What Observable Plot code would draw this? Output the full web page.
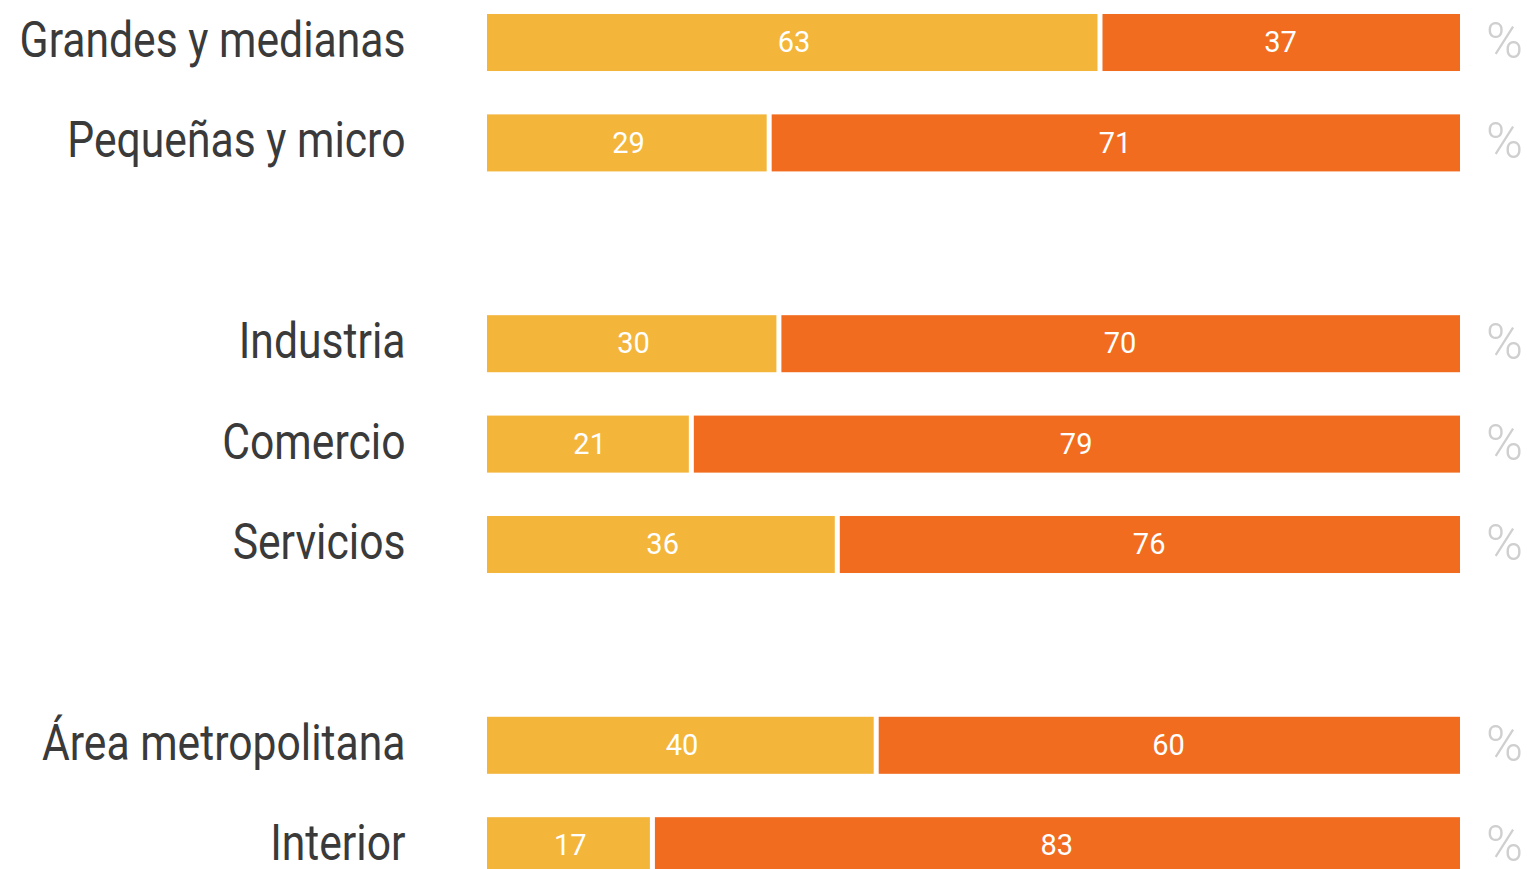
<!DOCTYPE html>
<html><head><meta charset="utf-8">
<script src="https://cdn.jsdelivr.net/npm/d3@7"></script>
<script src="https://cdn.jsdelivr.net/npm/@observablehq/plot@0.6"></script>
<style>
html,body{margin:0;padding:0;background:#fff;overflow:hidden;}
#chart svg{overflow:visible;display:block;}
</style></head>
<body><div id="chart"></div>
<script>
const categories = ["Grandes y medianas","Pequeñas y micro","Industria","Comercio","Servicios","Área metropolitana","Interior"];
const slots = ["Grandes y medianas","Pequeñas y micro","gap1","Industria","Comercio","Servicios","gap2","Área metropolitana","Interior"];
const firstShare = [63,29,30,21,36,40,17];
const secondLabel = [37,71,70,79,76,60,83];

const rows = categories.map((c,i)=>({cat:c, a:firstShare[i], b:secondLabel[i]}));
const font = "Roboto,sans-serif";

const chart = Plot.plot({
  width: 1527, height: 869,
  margin: 0,
  x: {domain:[0,100], range:[487,1460], axis:null},
  y: {domain:slots, range:[-7.7,895.9], paddingInner:0.432, paddingOuter:0.216, round:false, axis:null},
  marks: [
    Plot.barX(rows, {y:"cat", x1:0, x2:"a", fill:"#F4B53B", insetRight:2.5}),
    Plot.barX(rows, {y:"cat", x1:"a", x2:100, fill:"#F26C1F", insetLeft:2.5}),
    Plot.text(rows, {y:"cat", x:d=>d.a/2, text:d=>String(d.a), fill:"white", fontSize:29, fontFamily:font, lineAnchor:"middle", dy:0}),
    Plot.text(rows, {y:"cat", x:d=>(d.a+100)/2, text:d=>String(d.b), fill:"white", fontSize:29, fontFamily:font, lineAnchor:"middle", dy:0}),
    Plot.text(rows, {y:"cat", x:0, dx:-82, text:"cat", textAnchor:"end", fill:"#3a3a3a", fontSize:50, fontFamily:font, lineAnchor:"middle", dy:-2}),
    Plot.text(rows, {y:"cat", x:100, dx:44, text:()=>"%", textAnchor:"middle", fill:"#cfcfcf", fontSize:50, fontFamily:font, fontWeight:300, lineAnchor:"middle", dy:-1})
  ]
});
document.getElementById("chart").appendChild(chart);

const groups = chart.querySelectorAll('g[aria-label="text"]');
function squeeze(g, k){
  g.querySelectorAll("text").forEach(t=>{
    const tr = t.getAttribute("transform") || "";
    t.setAttribute("transform", tr + ` scale(${k},1)`);
  });
}
if (groups.length >= 4) {
  const first = groups[2].querySelector("text");
  const k = 386 / first.getComputedTextLength();
  squeeze(groups[2], k);
}
</script></body></html>
